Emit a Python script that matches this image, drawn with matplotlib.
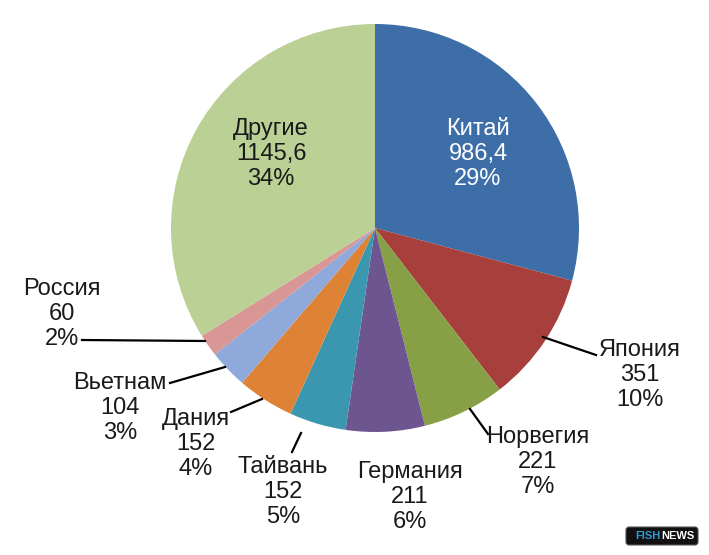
import matplotlib.pyplot as plt
from matplotlib.patches import FancyBboxPatch

# Данные
countries = ['Китай', 'Япония', 'Норвегия', 'Германия', 'Тайвань', 'Дания', 'Вьетнам', 'Россия', 'Другие']
values = [986.4, 351, 221, 211, 152, 152, 104, 60, 1145.6]
value_labels = ['986,4', '351', '221', '211', '152', '152', '104', '60', '1145,6']
percents = ['29%', '10%', '7%', '6%', '5%', '4%', '3%', '2%', '34%']
colors = ['#3E6EA8', '#A7403C', '#87A046', '#6D5690', '#3A97AF', '#DE8336',
          '#8FA9DA', '#D89694', '#BAD094']

# Положения подписей (пиксели от верхнего левого угла)
label_pos = [(478, 154), (640, 375), (538, 462), (410, 497), (283, 492),
             (196, 444), (120, 408), (62, 314), (271, 154)]
leaders = {1: ((596, 355), (543, 337)), 2: ((488, 434), (470, 409)),
           4: ((292, 452), (301, 433)), 5: ((231, 412), (262, 399)),
           6: ((170, 383), (225, 367)), 7: ((82, 340), (205, 341))}

plt.rcParams['font.family'] = ['Liberation Sans', 'DejaVu Sans']

W, H = 709, 555
fig = plt.figure(figsize=(W / 100, H / 100), dpi=100)
ax = fig.add_axes([0, 0, 1, 1])

cx, cy, r = 375, H - 228, 204
ax.pie(values, colors=colors, startangle=90, counterclock=False,
       center=(cx, cy), radius=r, frame=True,
       wedgeprops=dict(linewidth=0))
ax.set_xlim(0, W)
ax.set_ylim(0, H)
ax.set_aspect('equal')
ax.axis('off')

for i, name in enumerate(countries):
    x, y = label_pos[i]
    color = 'white' if i == 0 else '#1a1a1a'
    ax.text(x, H - y, f'{name}\n{value_labels[i]}\n{percents[i]}',
            ha='center', va='center', fontsize=17, color=color, linespacing=1.2)

for i, (p1, p2) in leaders.items():
    ax.plot([p1[0], p2[0]], [H - p1[1], H - p2[1]], color='black', lw=1.6)

# Логотип
ax.add_patch(FancyBboxPatch((626, H - 545), 72, 18, boxstyle='round,pad=0,rounding_size=3',
                            facecolor='#111111', edgecolor='#555555', lw=0.8))
ax.text(661, H - 536, 'FISH', ha='right', va='center', fontsize=8,
        fontweight='bold', color='#2E9BD6')
ax.text(661, H - 536, 'NEWS', ha='left', va='center', fontsize=8,
        fontweight='bold', color='white')

fig.savefig('out.png', dpi=100)
